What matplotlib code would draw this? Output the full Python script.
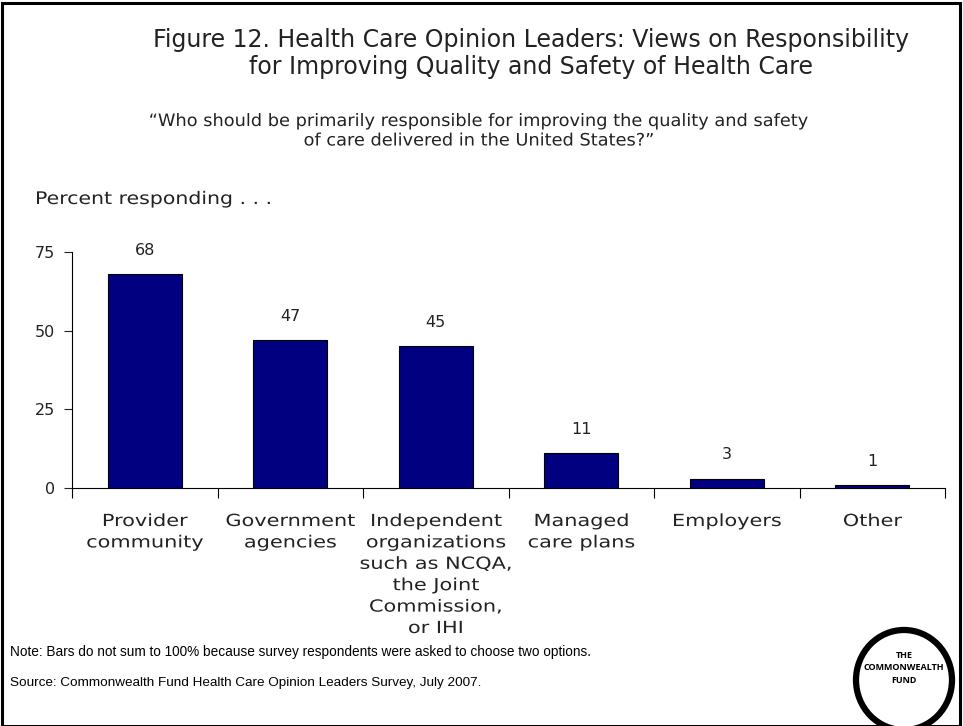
import matplotlib
matplotlib.use("Agg")
import matplotlib.pyplot as plt
from matplotlib.patches import Rectangle, Ellipse
from matplotlib.patheffects import AbstractPathEffect
from matplotlib.transforms import Affine2D

categories = ["Provider\ncommunity", "Government\nagencies",
              "Independent\norganizations\nsuch as NCQA,\nthe Joint\nCommission,\nor IHI",
              "Managed\ncare plans", "Employers", "Other"]
values = [68, 47, 45, 11, 3, 1]
yticks = [0, 25, 50, 75]

title = "Figure 12. Health Care Opinion Leaders: Views on Responsibility\nfor Improving Quality and Safety of Health Care"
question = "\u201cWho should be primarily responsible for improving the quality and safety\nof care delivered in the United States?\u201d"

W, H = 963, 726


class Stretch(AbstractPathEffect):
    # widen glyphs horizontally around the text anchor (mimics the wide slide font)
    def __init__(self, text, sx):
        super().__init__()
        self.text = text
        self.sx = sx

    def draw_path(self, renderer, gc, tpath, affine, rgbFace=None):
        cx = self.text.get_transform().transform(self.text.get_position())[0]
        t = affine + Affine2D().translate(-cx, 0).scale(self.sx, 1).translate(cx, 0)
        renderer.draw_path(gc, tpath, t, rgbFace)


def lines(x, y0, dy, s, sx=1.0, trans=None, **kw):
    # one Text per line, baselines placed in pixel rows from the top
    for k, ln in enumerate(s.split("\n")):
        yy = y0 + k*dy
        if trans is None:
            t = fig.text(x/W, 1 - yy/H, ln, va="baseline", **kw)
        else:
            t = fig.text(0, 0, ln, va="baseline", **kw)
            t.set_transform(trans)
            t.set_position((x, -(yy - 488)/236))
        if sx != 1.0:
            t.set_path_effects([Stretch(t, sx)])


fig = plt.figure(figsize=(W/100, H/100), dpi=100)
ax = fig.add_axes([72/W, 1-488/H, 873/W, 236/H])

x = list(range(len(values)))
bars = ax.bar(x, values, width=0.51, color="#000080", edgecolor="black", linewidth=0.8)
for b, v in zip(bars, values):
    ax.annotate(str(v), (b.get_x() + b.get_width()/2, v), xytext=(0, 17),
                textcoords="offset points", ha="center", va="center", fontsize=11.5, color="#222222")

ax.set_xlim(-0.5, len(values) - 0.5)
ax.set_ylim(0, 75)
ax.set_yticks(yticks)
ax.tick_params(axis="y", labelsize=11.5, length=6, width=0.8, pad=6, colors="#222222")
# x ticks sit between categories, labels centred below
ax.set_xticks([i - 0.5 for i in range(len(values) + 1)])
ax.set_xticklabels([])
ax.tick_params(axis="x", length=7, width=0.8)
for s in ["top", "right"]:
    ax.spines[s].set_visible(False)
for s in ["left", "bottom"]:
    ax.spines[s].set_linewidth(0.8)

for i, c in enumerate(categories):
    lines(i, 526, 21.4, c, sx=1.25, trans=ax.get_xaxis_transform(),
          ha="center", fontsize=12, color="#222222")

lines(531, 47, 27, title, ha="center", fontsize=17, color="#222222")
lines(480, 126, 19.5, question, sx=1.04, ha="center", fontsize=12.3, color="#222222")
lines(35, 204, 0, "Percent responding . . .", sx=1.18, ha="left", fontsize=12.5, color="#222222")

fig.text(10/W, 1-652/H, "Note: Bars do not sum to 100% because survey respondents were asked to choose two options.",
         ha="left", va="center", fontsize=9.8, family="Liberation Sans")
fig.text(10/W, 1-683/H, "Source: Commonwealth Fund Health Care Opinion Leaders Survey, July 2007.",
         ha="left", va="center", fontsize=9.7, family="Liberation Sans")

# frame around the whole slide
fig.patches.append(Rectangle((2/W, 0), 958/W, 1 - 3/H, transform=fig.transFigure,
                             fill=False, edgecolor="black", linewidth=2.2))

# logo
fig.patches.append(Ellipse((904/W, 1-680/H), 96/W, 100/H, transform=fig.transFigure,
                           fill=True, facecolor="white", edgecolor="black", linewidth=4.5))
fig.text(904/W, 1-668/H, "THE\nCOMMONWEALTH\nFUND", ha="center", va="center",
         fontsize=6.5, fontweight="bold", linespacing=1.5, family="Open Sans")

fig.savefig("out.png", dpi=100)
